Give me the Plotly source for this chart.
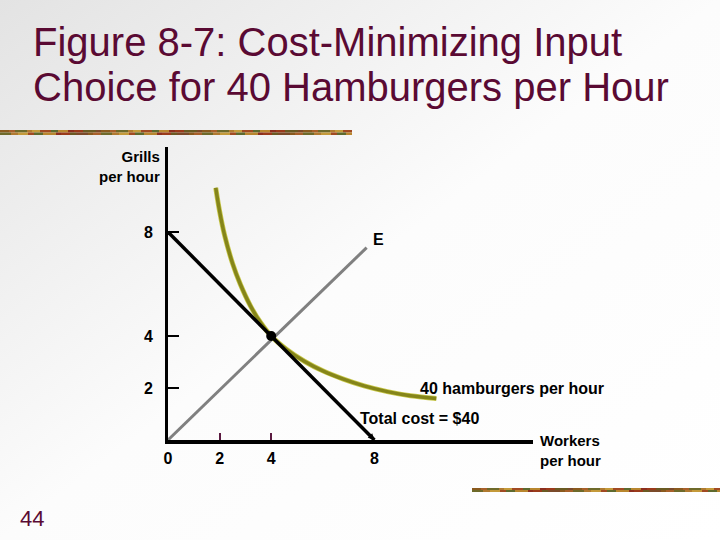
import base64
import plotly.graph_objects as go

# ---------------- data ----------------
iso_x = [1.85, 2.0, 2.2, 2.5, 2.8, 3.2, 3.6, 4.0, 4.6, 5.3, 6.0, 6.8, 7.6, 8.5, 9.4, 10.4]
iso_y = [9.7, 8.8, 7.85, 6.8, 6.0, 5.15, 4.5, 4.0, 3.48, 3.02, 2.66, 2.34, 2.08, 1.86, 1.7, 1.6]
budget_x = [0, 8]
budget_y = [8, 0]
ray_x = [0, 7.7]
ray_y = [0, 7.4]
opt_x = [4]
opt_y = [4]
x_tick_vals = [0, 2, 4, 8]
x_tick_text = ["0", "2", "4", "8"]
x_minor_ticks = [2, 4]
y_tick_vals = [2, 4, 8]
y_tick_text = ["2", "4", "8"]

# ---------------- layout geometry ----------------
W, H = 720, 540
L, R_EDGE, T, B_EDGE = 168, 533, 147, 440
PW, PH = R_EDGE - L, B_EDGE - T
XS, YS = 25.8, 26.0
x_max = PW / XS
y_max = PH / YS

MAROON = "#5a0a33"
FONT = "Liberation Sans, Arial, sans-serif"


def pp(xp, yp):
    return (xp - L) / PW, (B_EDGE - yp) / PH


# ---------------- background svg (gradient + decorative bars) ----------------
bar_colors = ["#8a5a1e", "#b8862e", "#6e6a2a", "#9a3a1a", "#c49a3a", "#7a4a2a",
              "#5e6a2e", "#a8602a", "#8c2e1e", "#b07a30", "#6a5a22", "#a14a22"]
bar_widths = [9, 6, 12, 5, 8, 11, 7, 10, 6, 9, 13, 5]


def bar_rects(x0, x1, y0, h):
    out = []
    for row in range(2):
        x = x0
        i = row * 5
        yy = y0 + row * h / 2
        while x < x1:
            w = bar_widths[i % len(bar_widths)]
            c = bar_colors[(i * 7 + row * 3) % len(bar_colors)]
            out.append(f'<rect x="{x}" y="{yy}" width="{min(w, x1 - x)}" height="{h/2}" fill="{c}"/>')
            x += w
            i += 1
    return "".join(out)


svg = (
    f'<svg xmlns="http://www.w3.org/2000/svg" width="{W}" height="{H}" viewBox="0 0 {W} {H}" preserveAspectRatio="none">'
    '<defs><linearGradient id="g" x1="0" y1="0" x2="1" y2="1">'
    '<stop offset="0" stop-color="#e3e3e3"/><stop offset="0.5" stop-color="#fcfcfc"/>'
    '<stop offset="1" stop-color="#ffffff"/></linearGradient></defs>'
    f'<rect x="0" y="0" width="{W}" height="{H}" fill="url(#g)"/>'
    + bar_rects(0, 352, 130, 5)
    + bar_rects(472, 720, 488, 4)
    + '</svg>'
)
svg_uri = "data:image/svg+xml;base64," + base64.b64encode(svg.encode()).decode()

fig = go.Figure()

fig.add_trace(go.Scatter(x=ray_x, y=ray_y, mode="lines",
                         line=dict(color="#808080", width=3), hoverinfo="skip"))
fig.add_trace(go.Scatter(x=iso_x, y=iso_y, mode="lines",
                         line=dict(color="#c8c84a", width=5, shape="spline"),
                         hoverinfo="skip"))
fig.add_trace(go.Scatter(x=iso_x, y=iso_y, mode="lines",
                         line=dict(color="#85851a", width=3.5, shape="spline"),
                         hoverinfo="skip"))
fig.add_trace(go.Scatter(x=budget_x, y=budget_y, mode="lines",
                         line=dict(color="black", width=3.5), hoverinfo="skip"))
fig.add_trace(go.Scatter(x=opt_x, y=opt_y, mode="markers",
                         marker=dict(color="black", size=10), hoverinfo="skip"))
fig.add_trace(go.Scatter(x=[], y=[], xaxis="x2", yaxis="y", showlegend=False))

annotations = []


def ann(text, xp, yp, xanchor="left", size=16, bold=True, color="black", align="left"):
    x, y = pp(xp, yp)
    annotations.append(dict(text=text, x=x, y=y, xref="paper", yref="paper",
                            xanchor=xanchor, yanchor="middle", showarrow=False, align=align,
                            font=dict(family=FONT, size=size, color=color,
                                      weight="bold" if bold else "normal")))


ann("Figure 8-7: Cost-Minimizing Input", 31, 42, size=40, bold=False, color=MAROON)
ann("Choice for 40 Hamburgers per Hour", 31, 87, size=40, bold=False, color=MAROON)
ann("Grills<br>per hour", 162, 166, xanchor="right", align="right", size=15)
ann("Workers<br>per hour", 538, 451, size=15)
ann("E", 371, 239)
ann("40 hamburgers per hour", 418, 388)
ann("Total cost = $40", 358, 418)
ann("44", 18, 518, size=22, bold=False, color=MAROON)

# small arrowhead at the end of the budget line
annotations.append(dict(x=budget_x[1], y=budget_y[1], ax=7.6, ay=0.4, xref="x", yref="y",
                        axref="x", ayref="y", showarrow=True, arrowhead=2, arrowsize=0.5,
                        arrowwidth=2.5, arrowcolor="black", text=""))

fig.update_layout(
    width=W, height=H,
    margin=dict(l=L, r=W - R_EDGE, t=T, b=H - B_EDGE, pad=0),
    paper_bgcolor="white",
    plot_bgcolor="rgba(0,0,0,0)",
    showlegend=False,
    annotations=annotations,
    images=[dict(source=svg_uri, xref="paper", yref="paper",
                 x=-L / PW, y=B_EDGE / PH, sizex=W / PW, sizey=H / PH,
                 xanchor="left", yanchor="top", sizing="stretch", layer="below")],
    xaxis=dict(range=[0, x_max], showgrid=False, zeroline=False,
               showline=True, linecolor="black", linewidth=3.5,
               tickvals=x_tick_vals, ticktext=x_tick_text, ticks="",
               ticklabelstandoff=1,
               tickfont=dict(family=FONT, size=16, color="black", weight="bold")),
    xaxis2=dict(range=[0, x_max], overlaying="x", anchor="y", side="bottom",
                showgrid=False, zeroline=False, showline=False,
                tickvals=x_minor_ticks, ticks="inside", ticklen=7, tickwidth=2,
                tickcolor="#5a1a40", showticklabels=False),
    yaxis=dict(range=[0, y_max], showgrid=False, zeroline=False,
               showline=True, linecolor="black", linewidth=3,
               tickvals=y_tick_vals, ticktext=y_tick_text,
               ticks="inside", ticklen=11, tickwidth=2, tickcolor="black",
               ticklabelstandoff=9,
               tickfont=dict(family=FONT, size=16, color="black", weight="bold")),
)

fig.write_html("out.html", config={"displayModeBar": False},
               post_script="document.body.style.margin='0';document.body.style.overflow='hidden';")
